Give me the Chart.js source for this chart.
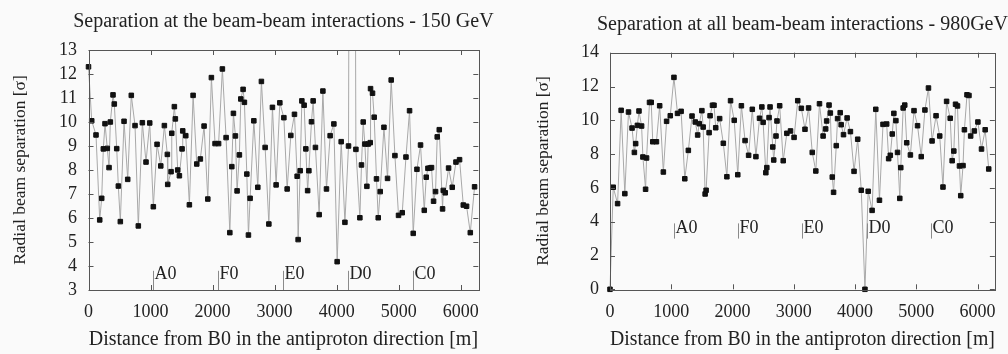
<!DOCTYPE html>
<html>
<head>
<meta charset="utf-8">
<script src="https://cdn.jsdelivr.net/npm/chart.js@4.4.0/dist/chart.umd.min.js"></script>
<style>
  html, body { margin: 0; padding: 0; background: #fafafa; }
  canvas { position: absolute; top: 0; }
  #lowChart { left: 0; }
  #highChart { left: 500px; }
</style>
</head>
<body>
<canvas id="lowChart" width="500" height="354"></canvas>
<canvas id="highChart" width="508" height="354"></canvas>
<script>
/* Separation at 150 GeV (m, sigma) */
const xLow = [0,52,121,181,213,239,266,303,331,352,395,416,455,481,513,573,632,690,750,803,
  868,927,987,1045,1105,1165,1223,1271,1277,1331,1342,1384,1400,1438,1465,1508,1519,1568,1626,1686,
  1745,1803,1863,1923,1981,2040,2097,2158,2218,2278,2310,2336,2368,2395,2432,2455,2492,2513,2552,2578,
  2605,2665,2729,2787,2847,2907,2965,3024,3084,3149,3202,3261,3320,3363,3379,3412,3439,3476,3503,3532,
  3552,3594,3621,3658,3718,3778,3836,3895,3955,4008,4073,4133,4191,4245,4310,4374,4400,4428,4455,4487,
  4508,4541,4546,4578,4605,4642,4670,4702,4762,4820,4879,4939,4997,5057,5117,5175,5234,5294,5352,5412,
  5444,5471,5504,5529,5562,5594,5621,5654,5707,5718,5750,5804,5863,5923,5981,6041,6094,6154,6223];
const sepLow = [12.3,10.05,9.46,5.92,6.82,8.88,9.93,8.9,8.1,10.0,11.13,10.75,8.89,7.33,5.85,10.03,7.61,11.11,9.85,5.67,
  9.97,8.33,9.96,6.47,9.07,8.17,9.85,8.65,7.4,7.93,9.53,10.64,10.13,8.0,7.76,8.88,9.63,9.43,6.55,11.11,
  8.25,8.46,9.83,6.79,11.85,9.1,9.1,12.21,9.35,5.39,8.14,10.36,9.42,7.13,8.63,10.96,11.36,10.82,7.83,5.29,
  6.82,10.05,7.28,11.69,8.94,5.75,10.61,7.38,10.8,10.18,7.21,9.44,10.32,7.74,5.1,7.97,10.88,10.7,8.88,7.14,
  7.97,10.01,10.88,8.94,6.14,11.29,7.21,9.43,9.92,4.18,9.18,5.82,9.0,60,8.86,6.01,8.21,10.0,9.08,7.32,
  9.08,9.14,11.39,11.2,10.2,7.63,6.01,7.1,9.78,7.65,11.75,8.6,6.11,6.22,8.54,10.47,5.36,8.03,9.04,6.32,
  7.7,8.07,8.08,8.1,6.7,7.1,9.38,9.68,6.38,7.15,7.05,8.08,7.28,8.33,8.43,6.54,6.49,5.39,7.3];

/* Separation at 980 GeV (m, sigma) */
const xHigh = [0,53,124,182,242,302,360,398,419,447,473,516,537,581,597,645,673,698,758,811,
  871,924,984,1044,1102,1161,1221,1279,1339,1392,1431,1457,1500,1521,1553,1569,1618,1634,1673,1698,
  1726,1790,1850,1908,1968,2028,2086,2145,2205,2263,2323,2382,2441,2479,2500,2544,2560,2597,2613,2657,
  2673,2710,2726,2770,2828,2887,2947,3005,3065,3124,3183,3242,3302,3360,3420,3479,3521,3537,3576,3597,
  3629,3650,3694,3715,3758,3774,3812,3871,3925,3984,4044,4102,4162,4215,4279,4339,4399,4457,4517,4549,
  4576,4608,4634,4667,4694,4731,4747,4786,4812,4844,4904,4963,5021,5081,5141,5199,5258,5323,5383,5436,
  5495,5554,5586,5613,5641,5673,5705,5726,5763,5786,5828,5860,5888,5948,6006,6065,6125,6183];
const sepHigh = [0,6.04,5.07,10.59,5.66,10.49,9.54,8.1,8.62,9.7,10.55,9.66,7.83,5.92,7.77,11.06,11.06,8.73,8.73,10.86,
  6.94,9.94,10.27,12.54,10.41,10.53,6.54,8.22,10.25,9.9,9.13,9.8,10.57,9.6,5.64,5.86,9.27,10.27,10.89,10.89,
  9.56,10.1,8.64,6.66,11.16,10.0,6.78,10.86,8.8,7.93,10.65,7.85,10.12,10.79,9.88,6.9,7.2,10.16,10.79,8.42,
  7.65,9.07,9.96,10.86,7.61,9.23,9.37,8.99,11.16,10.71,9.47,10.73,8.1,7.0,10.98,9.07,9.49,9.96,10.9,10.43,
  6.64,5.74,8.5,10.1,10.45,9.74,9.15,10.14,9.33,6.98,8.88,5.86,0,5.8,4.67,10.65,5.27,9.76,9.78,7.73,
  7.93,9.19,10.41,9.98,8.1,5.38,7.2,10.73,10.9,8.67,7.95,10.57,9.68,7.85,10.61,11.91,8.78,10.27,9.07,6.05,
  11.12,10.12,7.61,8.18,10.95,10.85,7.3,5.54,7.32,9.44,11.51,11.47,9.07,9.37,9.9,8.3,9.44,7.12];

/* Interaction region labels */
const stationNames = ["A0", "F0", "E0", "D0", "C0"];
const stationPos = [1047, 2094, 3142, 4189, 5236];

/* Tick values */
const xTicks = [0, 1000, 2000, 3000, 4000, 5000, 6000];
const yTicksLow = [3, 4, 5, 6, 7, 8, 9, 10, 11, 12, 13];
const yTicksHigh = [0, 2, 4, 6, 8, 10, 12, 14];

const RING = 6283;
const FAMILY = "'Liberation Serif', 'DejaVu Serif', serif";
const font = (size) => ({ family: FAMILY, size: size, weight: "normal" });
const INK = "#222";
const plain = (v) => String(v);

/* Title, border box, inward ticks on all sides and the station markers */
const framePlugin = {
  id: "frame",
  afterDatasetsDraw(chart, args, opts) {
    const { ctx, chartArea: a, scales: { x, y } } = chart;
    ctx.save();
    ctx.lineWidth = 1;

    // heading (drawn here so it can be wider than the plot, like the original)
    ctx.fillStyle = INK;
    ctx.font = `20px ${FAMILY}`;
    ctx.textAlign = "center";
    ctx.textBaseline = "middle";
    ctx.fillText(opts.title, (a.left + a.right) / 2, opts.titleY);

    ctx.strokeStyle = "#8a8a8a";
    ctx.font = `18px ${FAMILY}`;
    ctx.textAlign = "left";
    ctx.textBaseline = "alphabetic";
    stationNames.forEach((name, i) => {
      const px = Math.round(x.getPixelForValue(stationPos[i])) + 0.5;
      ctx.beginPath();
      ctx.moveTo(px, y.getPixelForValue(opts.lineFrom));
      ctx.lineTo(px, y.getPixelForValue(opts.lineTo));
      ctx.stroke();
      ctx.fillText(name, px + 1, y.getPixelForValue(opts.textAt));
    });

    ctx.strokeStyle = "#555";
    ctx.beginPath();
    x.ticks.forEach((t) => {
      const px = Math.round(x.getPixelForValue(t.value)) + 0.5;
      ctx.moveTo(px, a.bottom); ctx.lineTo(px, a.bottom - 5);
      ctx.moveTo(px, a.top); ctx.lineTo(px, a.top + 5);
    });
    y.ticks.forEach((t) => {
      const py = Math.round(y.getPixelForValue(t.value)) + 0.5;
      ctx.moveTo(a.left, py); ctx.lineTo(a.left + 5, py);
      ctx.moveTo(a.right, py); ctx.lineTo(a.right - 5, py);
    });
    ctx.stroke();
    ctx.strokeRect(Math.round(a.left) + 0.5, Math.round(a.top) + 0.5,
      Math.round(a.width), Math.round(a.height));
    ctx.restore();
  },
};

function makeChart(id, xs, ys, cfg) {
  return new Chart(document.getElementById(id), {
    type: "line",
    plugins: [framePlugin],
    data: {
      datasets: [
        {
          data: xs.map((x, i) => ({ x: x, y: ys[i] })),
          borderColor: "#a8a8a8",
          borderWidth: 1,
          pointStyle: "rect",
          pointRadius: 3.2,
          pointBorderWidth: 1,
          pointBackgroundColor: "#111",
          pointBorderColor: "#111",
          tension: 0,
          clip: cfg.clip,
        },
      ],
    },
    options: {
      responsive: false,
      animation: false,
      events: [],
      layout: { padding: { left: 0, right: cfg.padRight, top: cfg.padTop, bottom: 0 } },
      plugins: {
        legend: { display: false },
        tooltip: { enabled: false },
        title: { display: false },
        frame: cfg.frame,
      },
      scales: {
        x: {
          type: "linear",
          min: 0,
          max: RING,
          afterFit: (s) => { s.height = cfg.xHeight; },
          afterBuildTicks: (s) => { s.ticks = xTicks.map((v) => ({ value: v })); },
          grid: { display: false, drawTicks: false },
          border: { display: false },
          ticks: { color: INK, font: font(18), padding: cfg.xTickPad, maxRotation: 0, autoSkip: false, callback: plain },
          title: {
            display: true,
            text: "Distance from B0 in the antiproton direction [m]",
            color: INK,
            font: font(20),
            padding: { top: 0, bottom: 2 },
          },
        },
        y: {
          type: "linear",
          min: cfg.yMin,
          max: cfg.yMax,
          afterFit: (s) => { s.width = cfg.yWidth; },
          afterBuildTicks: (s) => { s.ticks = cfg.yTicks.map((v) => ({ value: v })); },
          grid: { display: false, drawTicks: false },
          border: { display: false },
          ticks: { color: INK, font: font(18), padding: cfg.yTickPad, autoSkip: false, callback: plain },
          title: {
            display: true,
            text: "Radial beam separation [σ]",
            color: INK,
            font: font(17.5),
            padding: { top: cfg.yTitlePad, bottom: 0 },
          },
        },
      },
    },
  });
}

makeChart("lowChart", xLow, sepLow, {
  padTop: 50,
  padRight: 21.7,
  xHeight: 64,
  yWidth: 88.5,
  xTickPad: 11,
  yTickPad: 11.5,
  yTitlePad: 9.5,
  yTicks: yTicksLow,
  yMin: 3, yMax: 13,
  clip: { left: 6, right: 6, top: 0, bottom: 6 },
  frame: {
    title: "Separation at the beam-beam interactions - 150 GeV",
    titleY: 21.5,
    lineFrom: 3, lineTo: 3.8, textAt: 3.45,
  },
});

makeChart("highChart", xHigh, sepHigh, {
  padTop: 52.7,
  padRight: 10.5,
  xHeight: 64.7,
  yWidth: 110,
  xTickPad: 12,
  yTickPad: 11,
  yTitlePad: 32.5,
  yTicks: yTicksHigh,
  yMin: 0, yMax: 14,
  clip: { left: 6, right: 6, top: 6, bottom: 6 },
  frame: {
    title: "Separation at all beam-beam interactions - 980GeV",
    titleY: 25,
    lineFrom: 3.0, lineTo: 3.9, textAt: 3.33,
  },
});
</script>
</body>
</html>
